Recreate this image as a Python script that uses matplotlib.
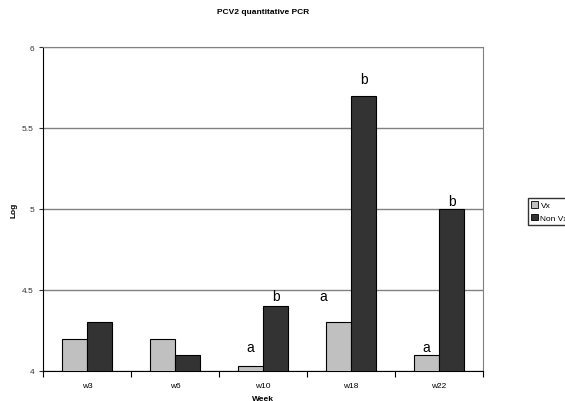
import numpy as np
import matplotlib.pyplot as plt
from matplotlib.patches import Patch

# === Data ===
weeks = ['w3', 'w6', 'w10', 'w18', 'w22']
vx = [4.2, 4.2, 4.03, 4.3, 4.1]
non_vx = [4.3, 4.1, 4.4, 5.7, 5.0]

# significance letters above bars
letters_vx = ['', '', 'a', 'a', 'a']
letters_vx_y = [0, 0, 4.15, 4.46, 4.15]
letters_non = ['', '', 'b', 'b', 'b']
letters_non_y = [0, 0, 4.46, 5.80, 5.05]

plt.rcParams['font.family'] = ['Liberation Sans', 'DejaVu Sans']

fig = plt.figure(figsize=(5.65, 4.02), dpi=100)
ax = fig.add_axes([43 / 565, 1 - 372 / 402, 440 / 565, 324 / 402])

x = np.arange(len(weeks))
w = 0.284
ax.bar(x - w / 2, vx, w, color='#C0C0C0', edgecolor='black', linewidth=0.8, zorder=3)
ax.bar(x + w / 2, non_vx, w, color='#333333', edgecolor='black', linewidth=0.8, zorder=3)

# small horizontal nudges so letters sit like the original
vx_nudge = [0, 0, 0, -0.17, 0]
for i in range(len(weeks)):
    if letters_vx[i]:
        ax.text(x[i] - w / 2 + vx_nudge[i], letters_vx_y[i], letters_vx[i],
                ha='center', va='center', fontsize=10)
    if letters_non[i]:
        ax.text(x[i] + w / 2, letters_non_y[i], letters_non[i],
                ha='center', va='center', fontsize=10)

ax.set_ylim(4, 6)
ax.set_xlim(-0.5, len(weeks) - 0.5)
ax.set_yticks([4, 4.5, 5, 5.5, 6])
ax.set_yticklabels(['4', '4.5', '5', '5.5', '6'])
ax.yaxis.grid(True, color='#808080', linewidth=1, zorder=0)
ax.set_axisbelow(True)

ax.set_xticks(x)
ax.set_xticklabels(weeks)
ax.set_xticks(np.arange(-0.5, len(weeks)), minor=True)
ax.tick_params(axis='x', which='major', length=0, labelsize=6, pad=8)
ax.tick_params(axis='x', which='minor', length=4, direction='out', width=0.8)
ax.tick_params(axis='y', labelsize=6, length=3, direction='out', width=0.8, colors='#333333')

for s in ['top', 'right']:
    ax.spines[s].set_color('#808080')
ax.spines['left'].set_color('black')
ax.spines['bottom'].set_color('black')

ax.set_xlabel('Week', fontsize=6, fontweight='bold', labelpad=4)
ax.set_ylabel('Log', fontsize=6, fontweight='bold', labelpad=3)
fig.text(0.5 * (43 + 483) / 565, 1 - 13 / 402, 'PCV2 quantitative PCR',
         ha='center', va='center', fontsize=6, fontweight='bold')

handles = [Patch(facecolor='#C0C0C0', edgecolor='black', linewidth=0.6, label='Vx'),
           Patch(facecolor='#333333', edgecolor='black', linewidth=0.6, label='Non Vx')]
fig.legend(handles=handles, loc='upper left', bbox_to_anchor=(528 / 565, 1 - 199 / 402),
           fontsize=6, frameon=True, fancybox=False, edgecolor='black',
           handlelength=0.8, handleheight=0.8, handletextpad=0.3, borderpad=0.4,
           labelspacing=0.5, borderaxespad=0)

fig.savefig('out.png', dpi=100)
